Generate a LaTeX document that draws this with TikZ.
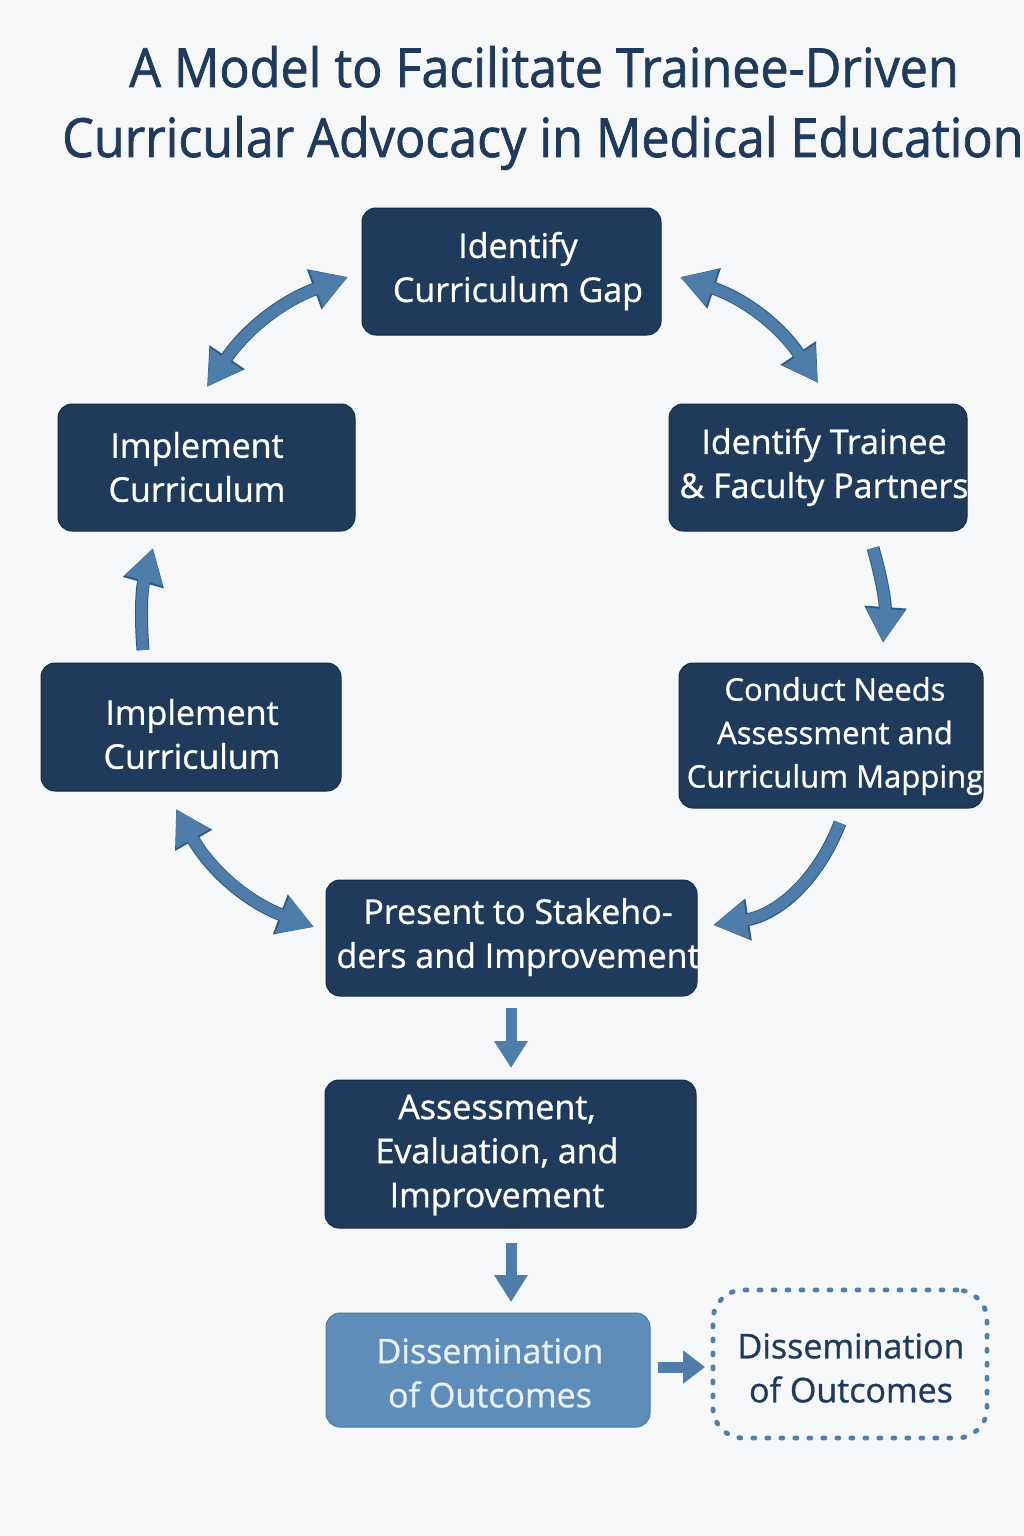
\documentclass[tikz,border=0pt]{standalone}
\usepackage{fontspec}
\setmainfont{Open Sans}
\newfontfamily\titlefont[FakeBold=1.3, FakeStretch=0.93]{Open Sans}
\newfontfamily\boxfont[FakeBold=0.9]{Open Sans}
\usetikzlibrary{arrows.meta}
\definecolor{bgc}{HTML}{F6F7F8}
\definecolor{navy}{HTML}{1F3A5A}
\definecolor{navyedge}{HTML}{152C47}
\definecolor{arrowblue}{HTML}{4F7DA9}
\definecolor{arrowdark}{HTML}{2E5A87}
\definecolor{lightbox}{HTML}{5E8DBA}
\definecolor{lighttext}{HTML}{E9F0F8}
\definecolor{dotblue}{HTML}{4F7FAD}
\tikzset{
  box/.style={draw=navyedge, line width=1pt, fill=navy, rounded corners=14pt, inner sep=0pt},
  lbox/.style={box, draw=lightbox!85!black, fill=lightbox},
  dbox/.style={draw=dotblue, line width=4.8pt, dash pattern=on 2pt off 12pt, line cap=round,
    rounded corners=30pt, fill=none, inner sep=0pt},
  btext/.style={text=white, align=center, inner sep=0pt, font=\boxfont\fontsize{34}{44}\selectfont},
  smalltext/.style={btext, font=\boxfont\fontsize{31}{43.5}\selectfont},
  under/.style={draw=arrowdark, line width=13pt},
  over/.style={draw=arrowblue, line width=11pt},
  headU/.tip={Triangle[length=36pt,width=40pt]},
  headO/.tip={Triangle[length=34pt,width=36pt]},
  titlef/.style={text=navy, font=\titlefont\fontsize{54}{70}\selectfont, inner sep=0pt}
}
\begin{document}
\begin{tikzpicture}[x=1pt,y=-1pt]
\fill[bgc] (0,0) rectangle (1024,1536);
\useasboundingbox (0,0) rectangle (1024,1536);

\node[titlef, anchor=base] (t1) at (544,87) {A Model to Facilitate Trainee-Driven};
\node[titlef, anchor=base west] (t2) at (62,157) {Curricular Advocacy in Medical Education};

\node[box, minimum width=299pt, minimum height=127pt] (gap) at (511.5,271.5) {};
\node[box, minimum width=297pt, minimum height=127pt] (impA) at (206.5,467.5) {};
\node[box, minimum width=298pt, minimum height=127pt] (partners) at (818,467.5) {};
\node[box, minimum width=300pt, minimum height=128pt] (impB) at (191,727) {};
\node[box, minimum width=304pt, minimum height=145pt] (needs) at (831,735.5) {};
\node[box, minimum width=371pt, minimum height=116pt] (present) at (511.5,938) {};
\node[box, minimum width=371pt, minimum height=148pt] (assess) at (510.5,1154) {};
\node[lbox, minimum width=324pt, minimum height=114pt] (diss) at (488,1370) {};
\node[dbox, minimum width=274pt, minimum height=148pt] (dissB) at (850,1364) {};

\node[btext] (gapT) at (518,271) {Identify\\Curriculum Gap};
\node[btext] (impAT) at (197,467) {Implement\\Curriculum};
\node[btext] (partnersT) at (824,467) {Identify Trainee\\\& Faculty Partners};
\node[btext] (impBT) at (192,734) {Implement\\Curriculum};
\node[smalltext] (needsT) at (835,736) {Conduct Needs\\Assessment and\\Curriculum Mapping};
\node[btext] (presentT) at (518,937) {Present to Stakeho-\\ders and Improvement};
\node[btext] (assessT) at (497,1155) {Assessment,\\Evaluation, and\\Improvement};
\node[btext, text=lighttext] (dissT) at (490,1373) {Dissemination\\of Outcomes};
\node[btext, text=navy] (dissBT) at (851,1368) {Dissemination\\of Outcomes};

\coordinate (a1s) at (207,387); \coordinate (a1e) at (348,277);
\coordinate (a2s) at (680,277); \coordinate (a2e) at (818,383);
\coordinate (a3s) at (873,548); \coordinate (a3e) at (883,643);
\coordinate (a4s) at (143,650); \coordinate (a4e) at (153,548);
\coordinate (a5s) at (840,823); \coordinate (a5e) at (713,925);
\coordinate (a6s) at (176,809); \coordinate (a6e) at (314,927);
\coordinate (a7s) at (511,1008); \coordinate (a7e) at (511,1068);
\coordinate (a8s) at (511,1243); \coordinate (a8e) at (511,1302);
\coordinate (a9s) at (658,1367); \coordinate (a9e) at (705,1367);

% curved arrows: dark rim underneath, fill on top
\draw[under, headU-headU] (a1s) to[bend left=18] (a1e);
\draw[over, headO-headO] (a1s) to[bend left=18] (a1e);
\draw[under, headU-headU] (a2s) to[bend left=19] (a2e);
\draw[over, headO-headO] (a2s) to[bend left=19] (a2e);
\draw[under, -headU] (a3s) to[bend left=10] (a3e);
\draw[over, -headO] (a3s) to[bend left=10] (a3e);
\draw[under, -headU] (a4s) to[bend left=10] (a4e);
\draw[over, -headO] (a4s) to[bend left=10] (a4e);
\draw[under, -headU] (a5s) to[bend left=30] (a5e);
\draw[over, -headO] (a5s) to[bend left=30] (a5e);
\draw[under, headU-headU] (a6s) to[bend right=20] (a6e);
\draw[over, headO-headO] (a6s) to[bend right=20] (a6e);
% straight arrows
\draw[over, -{Triangle[length=27pt,width=32pt]}] (a7s) -- (a7e);
\draw[over, -{Triangle[length=27pt,width=32pt]}] (a8s) -- (a8e);
\draw[over, -{Triangle[length=22pt,width=32pt]}] (a9s) -- (a9e);
\end{tikzpicture}
\end{document}
